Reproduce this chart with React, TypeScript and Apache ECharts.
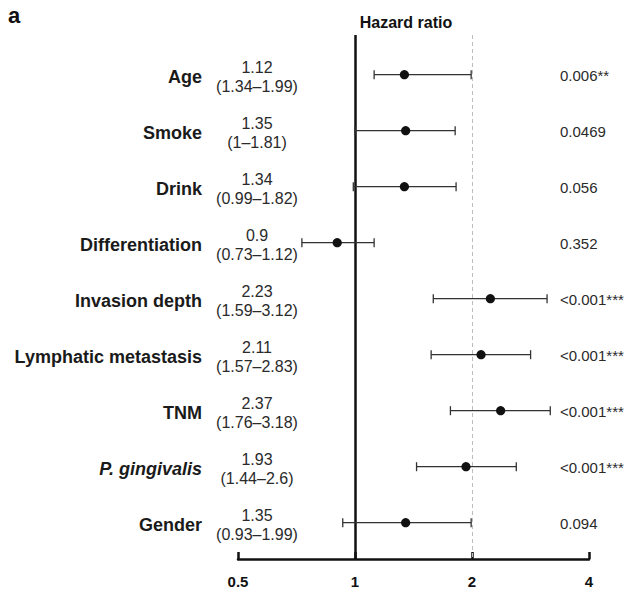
import React, { useEffect, useRef } from "react";
import * as echarts from "echarts";

const categories = [
  "Age",
  "Smoke",
  "Drink",
  "Differentiation",
  "Invasion depth",
  "Lymphatic metastasis",
  "TNM",
  "P. gingivalis",
  "Gender",
];
const categoryItalic = [false, false, false, false, false, false, false, true, false];
const hrPlot = [1.34, 1.35, 1.34, 0.9, 2.23, 2.11, 2.37, 1.93, 1.35];
const ciLow = [1.12, 1.0, 0.99, 0.73, 1.59, 1.57, 1.76, 1.44, 0.93];
const ciHigh = [1.99, 1.81, 1.82, 1.12, 3.12, 2.83, 3.18, 2.6, 1.99];
const hrLabels = ["1.12", "1.35", "1.34", "0.9", "2.23", "2.11", "2.37", "1.93", "1.35"];
const ciLabels = [
  "(1.34–1.99)",
  "(1–1.81)",
  "(0.99–1.82)",
  "(0.73–1.12)",
  "(1.59–3.12)",
  "(1.57–2.83)",
  "(1.76–3.18)",
  "(1.44–2.6)",
  "(0.93–1.99)",
];
const pValues = [
  "0.006**",
  "0.0469",
  "0.056",
  "0.352",
  "<0.001***",
  "<0.001***",
  "<0.001***",
  "<0.001***",
  "0.094",
];
const xTicks = [0.5, 1, 2, 4];
const refLines = [1, 2];

const FONT = "'Liberation Sans', Arial, Helvetica, sans-serif";

export default function App() {
  const ref = useRef<HTMLDivElement>(null);
  useEffect(() => {
    if (!ref.current) return;
    const chart = echarts.init(ref.current, undefined, { renderer: "svg" });
    const data = categories.map((_, i) => [i, hrPlot[i], ciLow[i], ciHigh[i]]);
    const option: any = {
      animation: false,
      backgroundColor: "#ffffff",
      textStyle: { fontFamily: FONT },
      grid: { left: 238, right: 41, top: 35, bottom: 33, containLabel: false },
      xAxis: {
        type: "log",
        logBase: 2,
        min: xTicks[0],
        max: xTicks[xTicks.length - 1],
        splitLine: { show: false },
        minorTick: { show: false },
        axisLine: { show: true, onZero: false, lineStyle: { color: "#111", width: 2.5 } },
        axisTick: { show: true, inside: true, length: 7, lineStyle: { color: "#111", width: 2.5 } },
        axisLabel: {
          fontFamily: FONT,
          fontWeight: "bold",
          fontSize: 15,
          color: "#111",
          margin: 15,
          formatter: (v: number) => String(v),
        },
      },
      yAxis: {
        type: "value",
        min: -0.709,
        max: 8.648,
        inverse: true,
        show: false,
        splitLine: { show: false },
      },
      graphic: [
        {
          type: "text",
          left: 8,
          top: 4,
          style: { text: "a", fontFamily: FONT, fontWeight: "bold", fontSize: 22, fill: "#111" },
        },
        {
          type: "text",
          x: 406,
          y: 22,
          style: {
            text: "Hazard ratio",
            fontFamily: FONT,
            fontWeight: "bold",
            fontSize: 16,
            fill: "#111",
            align: "center",
            verticalAlign: "middle",
          },
        },
      ],
      series: [
        {
          type: "scatter",
          data: [],
          z: 1,
          markLine: {
            silent: true,
            symbol: "none",
            z: 1,
            label: { show: false },
            data: [
              { xAxis: refLines[0], lineStyle: { color: "#111", width: 2.5, type: "solid" } },
              { xAxis: refLines[1], lineStyle: { color: "#bdbdbd", width: 1, type: [4, 3] } },
            ],
          },
        },
        {
          type: "custom",
          z: 10,
          encode: { x: [1, 2, 3], y: 0 },
          data,
          renderItem: (params: any, api: any) => {
            const row = api.value(0);
            const pHr = api.coord([api.value(1), row]);
            const pLo = api.coord([api.value(2), row]);
            const pHi = api.coord([api.value(3), row]);
            const st = { stroke: "#333", lineWidth: 1.3 };
            return {
              type: "group",
              children: [
                { type: "line", shape: { x1: pLo[0], y1: pLo[1], x2: pHi[0], y2: pHi[1] }, style: st },
                { type: "line", shape: { x1: pLo[0], y1: pLo[1] - 4.5, x2: pLo[0], y2: pLo[1] + 4.5 }, style: st },
                { type: "line", shape: { x1: pHi[0], y1: pHi[1] - 4.5, x2: pHi[0], y2: pHi[1] + 4.5 }, style: st },
                { type: "circle", shape: { cx: pHr[0], cy: pHr[1], r: 4.6 }, style: { fill: "#111" } },
              ],
            };
          },
        },
        {
          type: "custom",
          z: 10,
          encode: { x: 1, y: 0 },
          data,
          renderItem: (params: any, api: any) => {
            const i = params.dataIndex;
            const row = api.value(0);
            const y = api.coord([1, row])[1];
            return {
              type: "group",
              children: [
                {
                  type: "text",
                  x: 202,
                  y: y + 2.5,
                  style: {
                    text: categories[i],
                    fontFamily: FONT,
                    fontWeight: "bold",
                    fontStyle: categoryItalic[i] ? "italic" : "normal",
                    fontSize: 18,
                    fill: "#1a1a1a",
                    align: "right",
                    verticalAlign: "middle",
                  },
                },
                {
                  type: "text",
                  x: 257,
                  y: y - 7,
                  style: {
                    text: hrLabels[i],
                    fontFamily: FONT,
                    fontSize: 16,
                    fill: "#2a2a2a",
                    align: "center",
                    verticalAlign: "middle",
                  },
                },
                {
                  type: "text",
                  x: 257,
                  y: y + 12,
                  style: {
                    text: ciLabels[i],
                    fontFamily: FONT,
                    fontSize: 16,
                    fill: "#2a2a2a",
                    align: "center",
                    verticalAlign: "middle",
                  },
                },
                {
                  type: "text",
                  x: 560,
                  y: y + 1,
                  style: {
                    text: pValues[i],
                    fontFamily: FONT,
                    fontSize: 15,
                    fill: "#2a2a2a",
                    align: "left",
                    verticalAlign: "middle",
                  },
                },
              ],
            };
          },
        },
      ],
    };
    chart.setOption(option);
    return () => chart.dispose();
  }, []);
  return (
    <div
      ref={ref}
      style={{ position: "absolute", left: 0, top: 0, width: 630, height: 592, background: "#fff" }}
    />
  );
}
